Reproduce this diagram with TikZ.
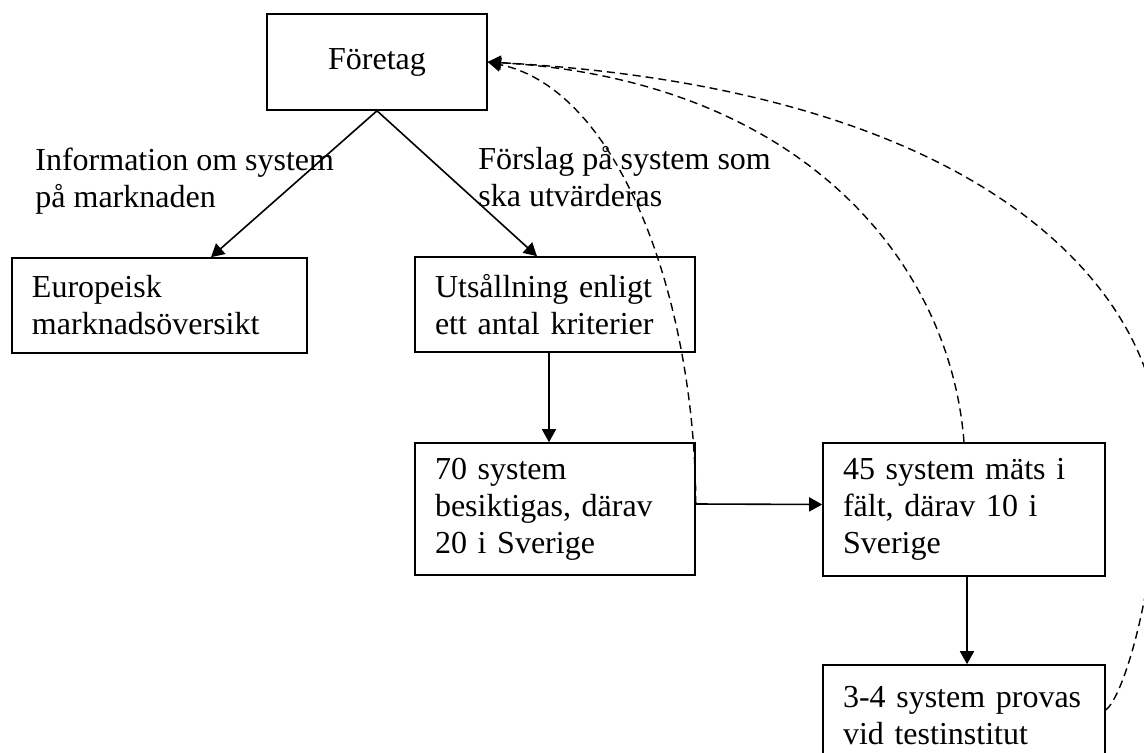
\documentclass[tikz,border=0pt]{standalone}
\usepackage{fontspec}
\setmainfont{Liberation Serif}
\usepackage{tikz}
\usetikzlibrary{arrows.meta}

\begin{document}
\begin{tikzpicture}[x=0.5pt,y=-0.5pt,font=\fontsize{16pt}{18.5pt}\selectfont,
	ruta/.style={draw,line width=0.8pt,inner xsep=10pt,inner ysep=0pt,align=left},
	pil/.style={line width=0.8pt,-{Triangle[length=6.5pt,width=7pt]}},
	streckpil/.style={line width=0.7pt,dash pattern=on 4pt off 2.5pt,-{Triangle[length=6.5pt,width=7pt]}}]
	\path[use as bounding box,clip] (0,0) rectangle (1144,753);
	\node[ruta,align=center,minimum width=110pt,minimum height=48pt] (foretag) at (377,62) {Företag};
	\node[ruta,minimum width=147.5pt,minimum height=47.5pt,text width=127.5pt] (europeisk) at (159.5,305.5) {Europeisk\\marknadsöversikt};
	\node[ruta,minimum width=140pt,minimum height=47.5pt,text width=120pt] (utsall) at (555,304.5) {Utsållning enligt\\ett antal kriterier};
	\node[ruta,minimum width=140pt,minimum height=66pt,text width=120pt] (sjuttio) at (555,509) {70 system\\besiktigas, därav\\20 i Sverige};
	\node[ruta,minimum width=141pt,minimum height=66.5pt,text width=121pt] (fyrtiofem) at (964,509.5) {45 system mäts i\\fält, därav 10 i\\Sverige};
	\node[ruta,minimum width=141pt,minimum height=51pt,text width=121pt] (prov) at (964,716) {3-4 system provas\\vid testinstitut};
	\node[anchor=north west,inner sep=0pt,align=left] (infotext) at (35,148) {Information om system\\på marknaden};
	\node[anchor=north west,inner sep=0pt,align=left] (forslagtext) at (478,146) {Förslag på system som\\ska utvärderas};
	\draw[pil] (foretag.south) -- (211,0 |- europeisk.north);
	\draw[pil] (foretag.south) -- (537,0 |- utsall.north);
	\draw[pil] ([xshift=-3pt]utsall.south) -- ([xshift=-3pt]sjuttio.north);
	\draw[pil] ([yshift=2.5pt]sjuttio.east) -- ([yshift=2.5pt]fyrtiofem.west);
	\draw[pil] ([xshift=1.5pt]fyrtiofem.south) -- ([xshift=1.5pt]prov.north);
	\draw[streckpil] ([yshift=2.5pt]sjuttio.east) .. controls (695,300) and (620,90) .. (foretag.east);
	\draw[streckpil] (fyrtiofem.north) .. controls (950,260) and (800,80) .. (foretag.east);
	\draw[streckpil] ([yshift=3pt]prov.east) .. controls (1125,695) and (1158,580) .. (1160,450)
		.. controls (1160,300) and (1000,90) .. (foretag.east);
\end{tikzpicture}
\end{document}
